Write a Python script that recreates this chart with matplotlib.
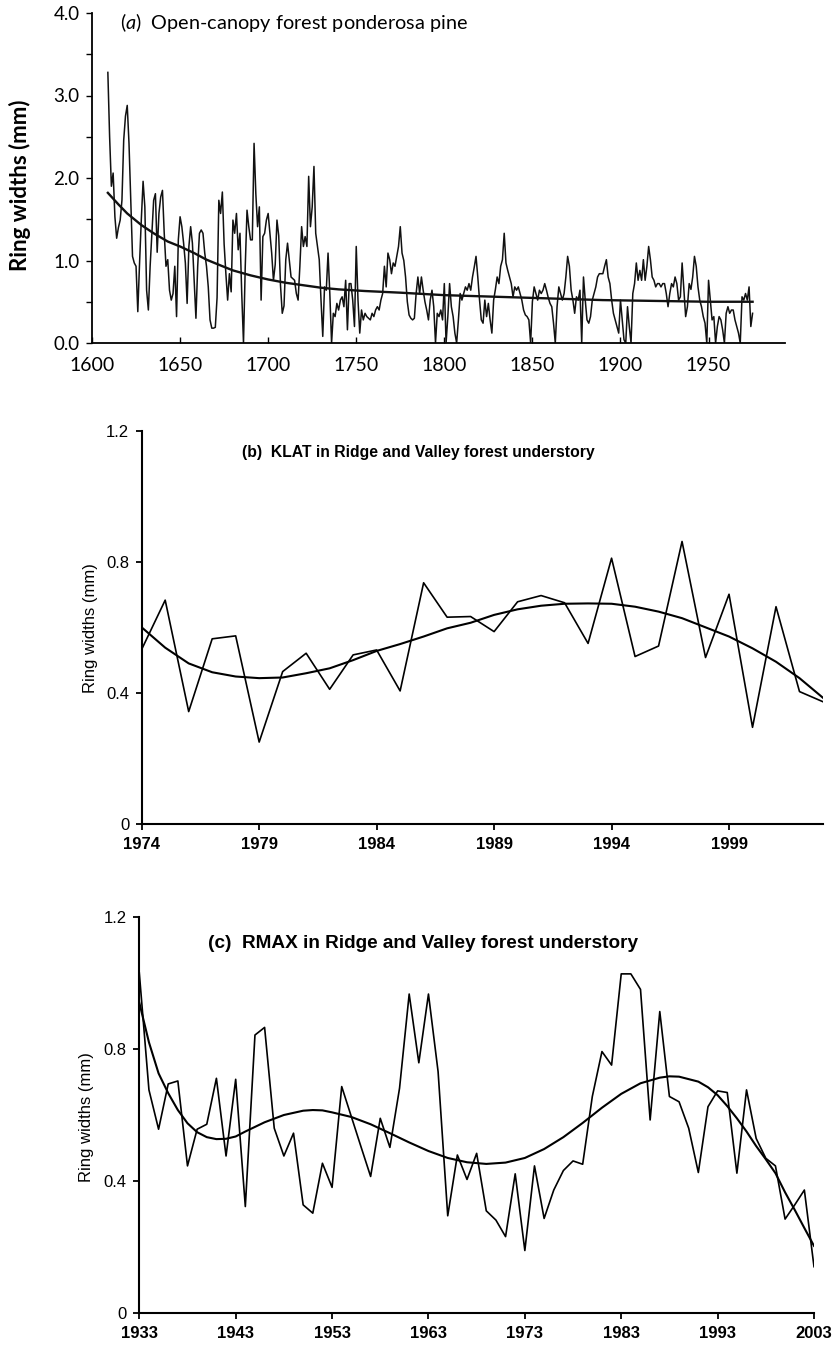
import numpy as np
import matplotlib
matplotlib.use("Agg")
import matplotlib.pyplot as plt

# ---------------------------------------------------------------------------
# (a) Open-canopy forest ponderosa pine, annual ring widths 1609-1975 (mm)
# ---------------------------------------------------------------------------
pine_start = 1609
pine_widths = [
    3.28,
    2.50, 1.90, 2.06, 1.53, 1.27, 1.40, 1.49, 1.73, 2.46, 2.75,   # 1610s
    2.88, 2.42, 1.73, 1.05, 0.97, 0.93, 0.38, 0.97, 1.50, 1.96,   # 1620s
    1.65, 0.64, 0.40, 0.93, 1.33, 1.73, 1.81, 1.10, 1.57, 1.77,   # 1630s
    1.85, 1.33, 0.93, 1.01, 0.64, 0.52, 0.60, 0.93, 0.32, 1.25,   # 1640s
    1.53, 1.41, 1.21, 0.97, 0.48, 1.17, 1.41, 1.21, 0.76, 0.30,   # 1650s
    0.93, 1.33, 1.37, 1.33, 1.09, 0.93, 0.68, 0.28, 0.18, 0.18,   # 1660s
    0.19, 0.55, 1.73, 1.57, 1.83, 1.20, 0.84, 0.52, 0.84, 0.62,   # 1670s
    1.49, 1.33, 1.57, 1.13, 1.33, 0.60, 0.00, 0.93, 1.61, 1.41,   # 1680s
    1.25, 1.25, 2.42, 1.81, 1.41, 1.65, 0.52, 1.29, 1.33, 1.49,   # 1690s
    1.57, 1.33, 1.09, 0.76, 0.95, 1.49, 1.30, 0.70, 0.36, 0.45,   # 1700s
    1.01, 1.21, 1.01, 0.80, 0.78, 0.76, 0.60, 0.52, 0.93, 1.41,   # 1710s
    1.17, 1.29, 1.17, 2.02, 1.41, 1.65, 2.14, 1.33, 1.17, 1.01,   # 1720s
    0.52, 0.08, 0.68, 0.64, 1.09, 0.60, 0.00, 0.36, 0.32, 0.48,   # 1730s
    0.40, 0.52, 0.56, 0.44, 0.76, 0.16, 0.72, 0.72, 0.52, 0.20,   # 1740s
    1.17, 0.52, 0.12, 0.40, 0.28, 0.36, 0.32, 0.30, 0.28, 0.36,   # 1750s
    0.32, 0.40, 0.44, 0.40, 0.52, 0.60, 0.93, 0.68, 1.09, 1.01,   # 1760s
    0.84, 0.97, 0.93, 1.05, 1.17, 1.41, 1.09, 1.00, 0.80, 0.50,   # 1770s
    0.34, 0.30, 0.28, 0.30, 0.60, 0.80, 0.60, 0.80, 0.64, 0.50,   # 1780s
    0.40, 0.28, 0.52, 0.64, 0.44, 0.00, 0.36, 0.32, 0.40, 0.28,   # 1790s
    0.72, 0.00, 0.32, 0.72, 0.44, 0.32, 0.12, 0.00, 0.28, 0.60,   # 1800s
    0.52, 0.60, 0.68, 0.64, 0.72, 0.64, 0.80, 0.92, 1.05, 0.80,   # 1810s
    0.52, 0.28, 0.24, 0.52, 0.32, 0.48, 0.28, 0.12, 0.52, 0.65,   # 1820s
    0.80, 0.72, 0.93, 1.01, 1.33, 0.97, 0.88, 0.80, 0.72, 0.56,   # 1830s
    0.68, 0.64, 0.68, 0.60, 0.52, 0.40, 0.34, 0.32, 0.28, 0.00,   # 1840s
    0.50, 0.68, 0.60, 0.52, 0.64, 0.60, 0.64, 0.72, 0.64, 0.55,   # 1850s
    0.48, 0.44, 0.24, 0.00, 0.44, 0.68, 0.60, 0.52, 0.60, 0.80,   # 1860s
    1.05, 0.93, 0.64, 0.52, 0.36, 0.56, 0.52, 0.64, 0.00, 0.80,   # 1870s
    0.52, 0.28, 0.24, 0.32, 0.52, 0.60, 0.68, 0.80, 0.84, 0.84,   # 1880s
    0.84, 0.93, 1.01, 0.80, 0.72, 0.52, 0.36, 0.28, 0.20, 0.12,   # 1890s
    0.52, 0.28, 0.04, 0.00, 0.44, 0.20, 0.00, 0.60, 0.72, 0.97,   # 1900s
    0.76, 0.88, 0.76, 1.01, 0.76, 0.93, 1.17, 1.01, 0.80, 0.76,   # 1910s
    0.68, 0.72, 0.72, 0.68, 0.72, 0.72, 0.60, 0.44, 0.60, 0.72,   # 1920s
    0.68, 0.80, 0.72, 0.52, 0.56, 0.97, 0.64, 0.32, 0.44, 0.72,   # 1930s
    0.65, 0.80, 1.05, 0.93, 0.68, 0.52, 0.44, 0.32, 0.24, 0.00,   # 1940s
    0.76, 0.52, 0.28, 0.32, 0.00, 0.20, 0.32, 0.28, 0.16, 0.00,   # 1950s
    0.36, 0.44, 0.36, 0.40, 0.40, 0.28, 0.20, 0.12, 0.00, 0.56,   # 1960s
    0.52, 0.60, 0.52, 0.68, 0.20, 0.36,                           # 1970-1975
]
pine_years = np.arange(pine_start, pine_start + len(pine_widths))

# negative-exponential growth trend
pine_trend_years = [1609, 1615, 1620, 1628, 1635, 1643, 1650, 1658, 1665, 1673,
                    1680, 1690, 1700, 1710, 1720, 1730, 1740, 1755, 1775, 1800,
                    1830, 1860, 1890, 1920, 1950, 1975]
pine_trend = [1.82, 1.68, 1.57, 1.43, 1.33, 1.23, 1.17, 1.09, 1.01, 0.94,
              0.88, 0.82, 0.77, 0.73, 0.70, 0.67, 0.65, 0.63, 0.61, 0.58,
              0.56, 0.54, 0.52, 0.51, 0.50, 0.50]

# ---------------------------------------------------------------------------
# (b) KLAT, Ridge and Valley forest understory, 1974-2003 (mm)
# ---------------------------------------------------------------------------
klat_years = np.arange(1974, 2004)
klat_widths = [0.533, 0.683, 0.343, 0.565, 0.574, 0.250, 0.465, 0.521, 0.411, 0.516,
               0.531, 0.406, 0.736, 0.631, 0.633, 0.587, 0.678, 0.697, 0.675, 0.551,
               0.811, 0.511, 0.543, 0.862, 0.508, 0.701, 0.295, 0.663, 0.404, 0.373]
klat_trend = [0.600, 0.538, 0.490, 0.463, 0.450, 0.445, 0.447, 0.460, 0.475, 0.500,
              0.528, 0.549, 0.572, 0.597, 0.614, 0.638, 0.655, 0.666, 0.672, 0.673,
              0.672, 0.663, 0.648, 0.628, 0.600, 0.572, 0.536, 0.495, 0.445, 0.385]

# ---------------------------------------------------------------------------
# (c) RMAX, Ridge and Valley forest understory, 1933-2003 (mm)
# ---------------------------------------------------------------------------
rmax_years = np.arange(1933, 2004)
rmax_widths = [1.030, 0.676, 0.557, 0.694, 0.703, 0.446, 0.557, 0.572, 0.711, 0.476,   # 1933-42
               0.708, 0.323, 0.842, 0.865, 0.560, 0.476, 0.545, 0.328, 0.303, 0.454,   # 1943-52
               0.381, 0.686, 0.595, 0.504, 0.414, 0.590, 0.502, 0.681, 0.966, 0.758,   # 1953-62
               0.966, 0.731, 0.295, 0.479, 0.405, 0.484, 0.310, 0.282, 0.232, 0.422,   # 1963-72
               0.190, 0.446, 0.287, 0.373, 0.432, 0.461, 0.451, 0.656, 0.792, 0.751,   # 1973-82
               1.027, 1.027, 0.980, 0.585, 0.913, 0.656, 0.640, 0.560, 0.426, 0.625,   # 1983-92
               0.673, 0.668, 0.424, 0.676, 0.529, 0.469, 0.446, 0.285, 0.328, 0.373,   # 1993-2002
               0.141]                                                                 # 2003
rmax_trend_years = [1933, 1934, 1935, 1936, 1937, 1938, 1939, 1940, 1941, 1942,
                    1943, 1944, 1946, 1948, 1950, 1951, 1952, 1953, 1955, 1957,
                    1959, 1961, 1963, 1965, 1967, 1969, 1971, 1973, 1975, 1977,
                    1979, 1981, 1983, 1985, 1987, 1988, 1989, 1991, 1992, 1993,
                    1994, 1995, 1996, 1997, 1998, 1999, 2000, 2001, 2002, 2003]
rmax_trend = [0.940, 0.820, 0.726, 0.666, 0.615, 0.575, 0.548, 0.533, 0.527, 0.528,
              0.535, 0.550, 0.578, 0.600, 0.613, 0.615, 0.614, 0.608, 0.594, 0.572,
              0.545, 0.517, 0.491, 0.470, 0.457, 0.452, 0.456, 0.470, 0.497, 0.533,
              0.576, 0.622, 0.664, 0.696, 0.713, 0.717, 0.716, 0.701, 0.684, 0.660,
              0.627, 0.590, 0.550, 0.506, 0.466, 0.424, 0.366, 0.313, 0.258, 0.204]

W, H = 832, 1346
fig = plt.figure(figsize=(W / 100, H / 100), dpi=100)
fig.patch.set_facecolor("white")


def box(left, top, right, bottom):
    """Axes rectangle from pixel edges."""
    return [left / W, 1 - bottom / H, (right - left) / W, (bottom - top) / H]


def only_left_bottom(ax, lw):
    for side in ("top", "right"):
        ax.spines[side].set_visible(False)
    for side in ("left", "bottom"):
        ax.spines[side].set_linewidth(lw)
        ax.spines[side].set_color("black")


# ----------------------------- panel (a) ------------------------------------
fa = "Lato"
plt.rcParams["mathtext.fontset"] = "custom"
plt.rcParams["mathtext.rm"] = "Lato"
plt.rcParams["mathtext.it"] = "Lato:italic"

ax_a = fig.add_axes(box(92, 13, 785, 343))
ax_a.plot(pine_years, pine_widths, color="#111111", lw=1.1)
ax_a.plot(pine_trend_years, pine_trend, color="#111111", lw=1.7)
ax_a.set_xlim(1600, 1993.4)
ax_a.set_ylim(0, 4)
only_left_bottom(ax_a, 1.3)
ax_a.set_yticks([0, 1, 2, 3, 4])
ax_a.set_yticklabels(["0.0", "1.0", "2.0", "3.0", "4.0"], family=fa, fontsize=13.5)
ax_a.set_yticks([0.5, 1.5, 2.5, 3.5], minor=True)
ax_a.tick_params(axis="y", which="both", direction="out", length=4, width=1, pad=5)
ax_a.set_xticks(np.arange(1600, 1951, 50))
ax_a.set_xticklabels([str(y) for y in range(1600, 1951, 50)], family=fa, fontsize=14)
ax_a.tick_params(axis="x", direction="in", length=4, width=1, pad=10)
fig.text(120 / W, 1 - 22 / H, r"($\it{a}$)  Open-canopy forest ponderosa pine",
         family=fa, fontsize=14.3, ha="left", va="center")
fig.text(20 / W, 1 - 185 / H, "Ring widths (mm)", family=fa, fontsize=16,
         fontweight="bold", rotation=90, ha="center", va="center")

# ----------------------------- panel (b) ------------------------------------
fb = "Liberation Sans"
ax_b = fig.add_axes(box(141.7, 430.7, 823, 824))
ax_b.plot(klat_years, klat_widths, color="black", lw=1.2)
ax_b.plot(klat_years, klat_trend, color="black", lw=1.5)
ax_b.set_xlim(1974, 2003)
ax_b.set_ylim(0, 1.2)
only_left_bottom(ax_b, 1.5)
ax_b.set_yticks([0, 0.4, 0.8, 1.2])
ax_b.set_yticklabels(["0", "0.4", "0.8", "1.2"], family=fb, fontsize=12)
ax_b.set_xticks(np.arange(1974, 2000, 5))
ax_b.set_xticklabels([str(y) for y in range(1974, 2000, 5)], family=fb,
                     fontsize=12, fontweight="bold")
ax_b.tick_params(axis="both", direction="out", length=4, width=1.3, pad=5)
fig.text(241.7 / W, 1 - 453 / H, "(b)  KLAT in Ridge and Valley forest understory",
         family=fb, fontsize=11.3, fontweight="bold", ha="left", va="center")
fig.text(90 / W, 1 - 628 / H, "Ring widths (mm)", family=fb, fontsize=12,
         rotation=90, ha="center", va="center")

# ----------------------------- panel (c) ------------------------------------
ax_c = fig.add_axes(box(139.3, 916.7, 814, 1313.3))
ax_c.plot(rmax_years, rmax_widths, color="black", lw=1.2)
ax_c.plot(rmax_trend_years, rmax_trend, color="black", lw=1.5)
ax_c.set_xlim(1933, 2003)
ax_c.set_ylim(0, 1.2)
only_left_bottom(ax_c, 1.5)
ax_c.set_yticks([0, 0.4, 0.8, 1.2])
ax_c.set_yticklabels(["0", "0.4", "0.8", "1.2"], family=fb, fontsize=12)
ax_c.set_xticks(np.arange(1933, 2004, 10))
ax_c.set_xticklabels([str(y) for y in range(1933, 2004, 10)], family=fb,
                     fontsize=12, fontweight="bold")
ax_c.tick_params(axis="both", direction="out", length=4, width=1.3, pad=5)
fig.text(208.3 / W, 1 - 943 / H, "(c)  RMAX in Ridge and Valley forest understory",
         family=fb, fontsize=13.7, fontweight="bold", ha="left", va="center")
fig.text(86.7 / W, 1 - 1117 / H, "Ring widths (mm)", family=fb, fontsize=12,
         rotation=90, ha="center", va="center")

fig.savefig("out.png", dpi=100, facecolor="white")
